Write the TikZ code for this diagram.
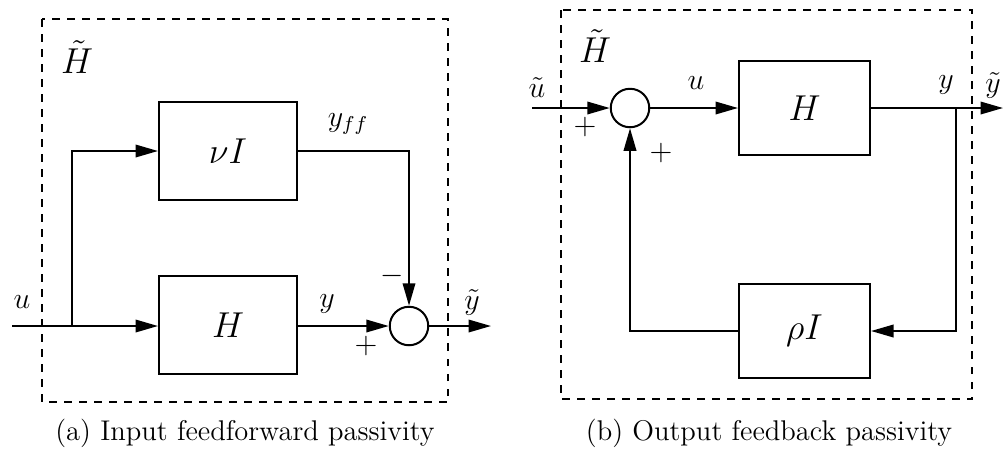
\documentclass[tikz,border=0pt]{standalone}
\usepackage{amsmath,amssymb}
\usepackage{tikz}
\usetikzlibrary{arrows.meta}

\begin{document}
\begin{tikzpicture}[x=0.4pt, y=-0.4pt,
    blk/.style={draw, rectangle, line width=0.8pt, minimum width=55.2pt, minimum height=39.2pt, inner sep=0pt, font=\Large},
    blkb/.style={blk, minimum width=52.4pt, minimum height=37.6pt},
    sum/.style={draw, circle, line width=0.8pt, minimum size=15.4pt, inner sep=0pt},
    frame/.style={draw, dashed, line width=0.6pt},
    lbl/.style={inner sep=0pt, font=\large},
    big/.style={inner sep=0pt, font=\Large},
    captxt/.style={font=\fontsize{11.4}{13}\selectfont},
    arr/.style={-{Triangle[length=9pt, width=5pt]}, line width=0.8pt},
    ln/.style={line width=0.8pt}
]
\useasboundingbox (0,0) rectangle (1004,448);
% (a) input feedforward
\draw[frame] (42,19) rectangle (448,402);
\node[big] (Hta) at (77,57) {$\tilde{H}$};
\node[blk] (nuI) at (228,151) {$\nu I$};
\node[blk] (Ha) at (228,325) {$H$};
\node[sum] (suma) at (409,326) {};
\coordinate (ua) at (12,326);
\coordinate (bra) at (72,326);
\coordinate (yta) at (491,326);
\draw[ln] (ua) -- (bra);
\draw[arr] (bra) -- (Ha.west |- bra);
\draw[arr] (bra) |- (nuI);
\draw[arr] (nuI) -| (suma);
\draw[arr] (Ha.east |- suma) -- (suma);
\draw[arr] (suma) -- (yta);
\node[lbl] (lua) at (22,302) {$u$};
\node[lbl] (lya) at (327,304) {$y$};
\node[lbl] (lyff) at (348,124) {$y_{ff}$};
\node[lbl] (lmin) at (392,276) {$-$};
\node[lbl] (lpla) at (366,346) {$+$};
\node[lbl] (lyta) at (472,302) {$\tilde y$};
\node[captxt] (capa) at (245,433) {(a) Input feedforward passivity};
% (b) output feedback
\draw[frame] (561,10) rectangle (972,399);
\node[big] (Htb) at (595,46) {$\tilde{H}$};
\node[sum] (sumb) at (630,108) {};
\node[blkb] (Hb) at (804.5,108) {$H$};
\node[blkb] (rhoI) at (804.5,331) {$\rho I$};
\coordinate (ub) at (532,108);
\coordinate (brb) at (956,108);
\coordinate (ytb) at (1003,108);
\draw[arr] (ub) -- (sumb);
\draw[arr] (sumb) -- (Hb);
\draw[ln] (Hb) -- (brb);
\draw[arr] (brb) -- (ytb);
\draw[arr] (brb) |- (rhoI);
\draw[arr] (rhoI) -| (sumb);
\node[lbl] (lub) at (537,88) {$\tilde u$};
\node[lbl] (lplb) at (585,127) {$+$};
\node[lbl] (lu) at (696,83) {$u$};
\node[lbl] (lplc) at (661,153) {$+$};
\node[lbl] (lyb) at (946,85) {$y$};
\node[lbl] (lytb) at (993,85) {$\tilde y$};
\node[captxt] (capb) at (769,433) {(b) Output feedback passivity};
\end{tikzpicture}
\end{document}
